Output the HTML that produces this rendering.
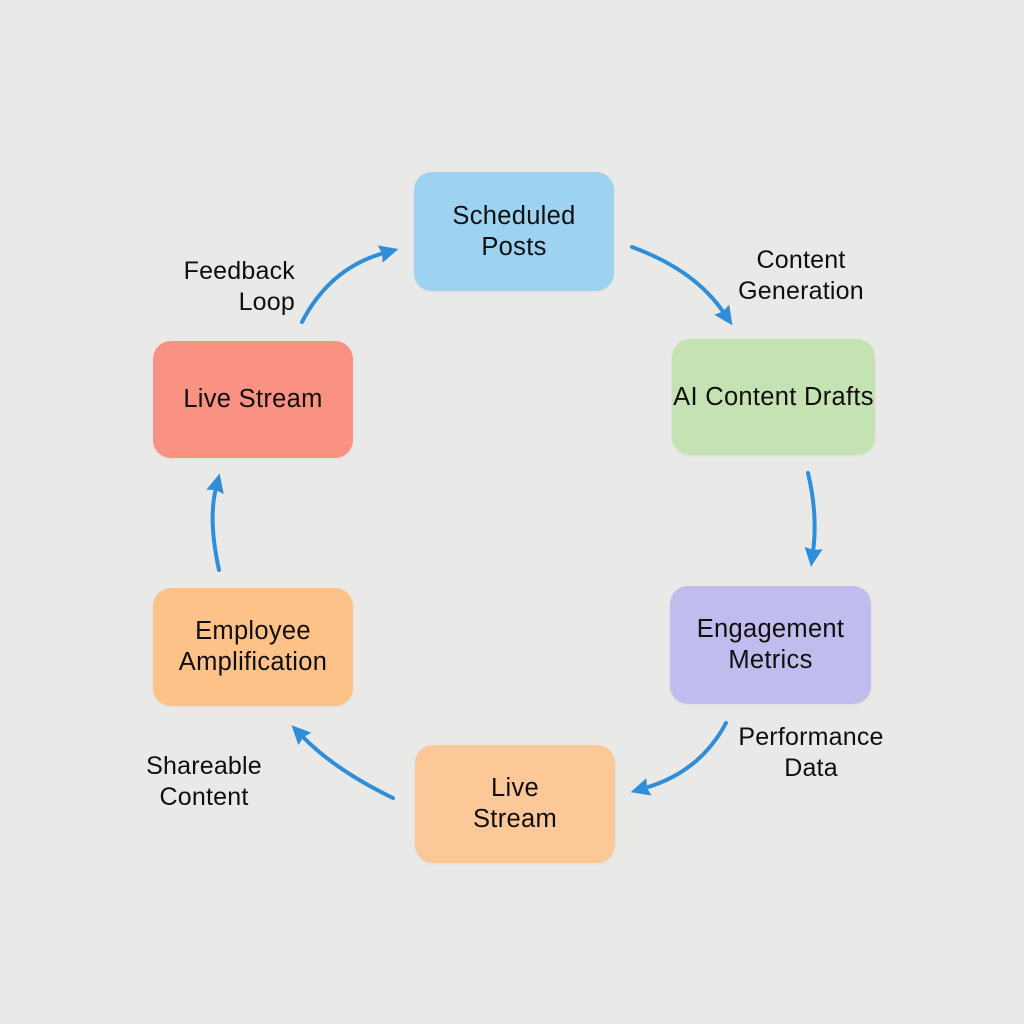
<!DOCTYPE html>
<html>
<head>
<meta charset="utf-8">
<style>
  html,body{margin:0;padding:0;}
  body{width:1024px;height:1024px;position:relative;overflow:hidden;
    background:#e9e9e8;font-family:"Liberation Sans",sans-serif;color:#0f0f0f;}
  .box{position:absolute;border-radius:18px;display:flex;align-items:center;justify-content:center;
    text-align:center;font-size:25.5px;line-height:31px;letter-spacing:0.3px;
    box-shadow:0 1px 3px rgba(0,0,0,0.05);white-space:nowrap;}
  .lbl{position:absolute;font-size:25px;line-height:31px;letter-spacing:0.2px;white-space:nowrap;}
  svg{position:absolute;left:0;top:0;}
</style>
</head>
<body>
  <div class="box" style="left:414px;top:172px;width:200px;height:119px;background:#9dd3f0;">Scheduled<br>Posts</div>
  <div class="box" style="left:672px;top:339px;width:203px;height:116px;background:#c5e2b3;">AI Content Drafts</div>
  <div class="box" style="left:670px;top:586px;width:201px;height:118px;background:#c0bced;">Engagement<br>Metrics</div>
  <div class="box" style="left:415px;top:745px;width:200px;height:118px;background:#fcc897;">Live<br>Stream</div>
  <div class="box" style="left:153px;top:588px;width:200px;height:118px;background:#fcc288;">Employee<br>Amplification</div>
  <div class="box" style="left:153px;top:341px;width:200px;height:117px;background:#f99282;">Live Stream</div>

  <div class="lbl" style="left:721px;top:245px;width:160px;text-align:center;">Content<br>Generation</div>
  <div class="lbl" style="left:135px;top:256px;width:160px;text-align:right;">Feedback<br>Loop</div>
  <div class="lbl" style="left:731px;top:722px;width:160px;text-align:center;">Performance<br>Data</div>
  <div class="lbl" style="left:124px;top:751px;width:160px;text-align:center;">Shareable<br>Content</div>

  <svg width="1024" height="1024" viewBox="0 0 1024 1024">
    <defs>
      <marker id="ah" markerUnits="userSpaceOnUse" markerWidth="22" markerHeight="20" refX="4" refY="9" orient="auto">
        <path d="M0,0 L19,9 L0,18 L2,9 Z" fill="#2e8fd8"/>
      </marker>
    </defs>
    <g fill="none" stroke="#2e8fd8" stroke-width="4" stroke-linecap="round" marker-end="url(#ah)">
      <path d="M632,247 Q695,270 724,313"/>
      <path d="M808,473 Q818,515 813,552"/>
      <path d="M726,723 Q700,772 645,788"/>
      <path d="M393,798 Q335,770 302,736"/>
      <path d="M219,570 Q208,520 216,488"/>
      <path d="M302,322 Q330,268 384,253"/>
    </g>
  </svg>
</body>
</html>
